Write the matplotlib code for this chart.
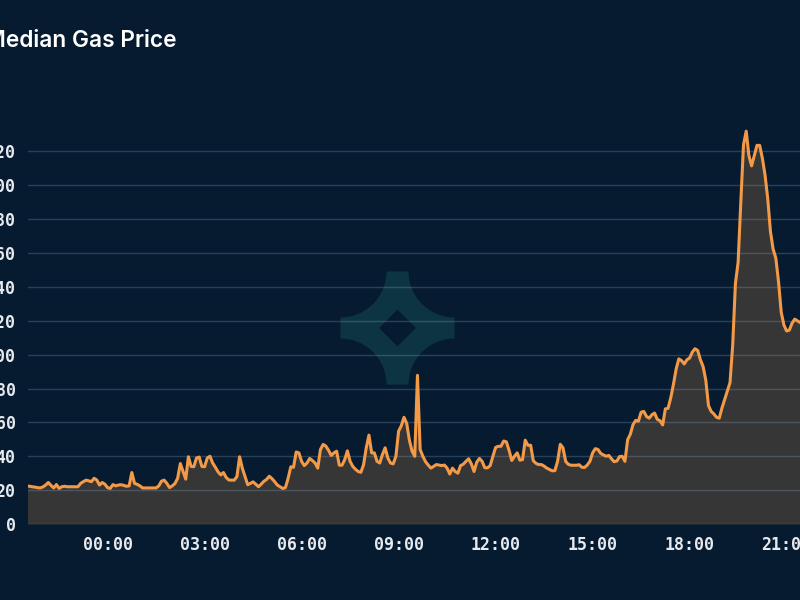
import numpy as np
import pandas as pd
import matplotlib
matplotlib.use("Agg")
import matplotlib.pyplot as plt
import matplotlib.dates as mdates
from matplotlib.path import Path
from matplotlib.patches import PathPatch

# ---------------- data ----------------
title = "Median Gas Price"
start_time = "2024-01-01 21:30"
sample_freq = "5min"
median_gas = [
    22.5, 22.3, 22, 21.8, 21.5, 21.3, 21.9, 23, 24.5, 22.8, 21.3, 23.3,
    21, 22, 22.3, 22, 22, 22, 22, 22, 24, 25, 25.9, 25.5,
    25, 27, 26, 23, 24.5, 23.5, 21.5, 21, 23.3, 22.5, 23, 23.2,
    22.8, 22.3, 22.5, 30.4, 24, 23.4, 22.5, 21.3, 21.3, 21.3, 21.3, 21.3,
    21.3, 22.5, 25.3, 25.9, 24, 21.5, 22.5, 23.9, 27, 35.7, 31, 26.5,
    39.7, 34, 33.8, 39, 39.5, 34, 33.8, 39, 40, 36, 33.5, 30.8,
    29, 30.4, 27.5, 26, 25.9, 25.9, 28, 39.7, 33, 28, 23.2, 24,
    24.9, 23.5, 22, 23.5, 25.2, 26.3, 28.2, 26.8, 25, 23, 22, 21,
    21.5, 27, 33.8, 33.5, 42.5, 42, 37, 34.5, 36, 38.7, 37.5, 36,
    33, 44, 47, 46, 43.5, 40.5, 42, 43, 34.7, 34.7, 38, 43.2,
    37, 34, 32.3, 31, 30.5, 35, 45, 52.5, 42, 42, 37, 36,
    41, 45, 39, 36, 35.5, 40, 54.8, 58, 63, 59.5, 49.5, 43,
    40, 87.8, 44, 40, 36.8, 34.8, 33, 34, 35.1, 34.8, 34.5, 34.8,
    33, 29.5, 33, 31, 30, 34.5, 35.3, 37, 38.5, 35.5, 31, 36.5,
    38.7, 37, 33.2, 33.2, 34.5, 40, 45.2, 45.9, 45.9, 49, 48.5, 43.5,
    37.5, 40, 42, 37.7, 38, 49.5, 46.5, 46.5, 37.3, 35.8, 35.1, 35.1,
    34.2, 33, 32.2, 31.4, 31.5, 37, 47.1, 45, 37, 35.2, 34.7, 34.7,
    34.7, 35, 33.5, 33.4, 34.8, 37, 42, 44.5, 44, 41.7, 40.8, 40,
    40.5, 38.5, 36.8, 37.2, 39.8, 40, 37, 49.8, 53, 58.7, 61.2, 60.7,
    66, 66.5, 63.5, 62.5, 64.5, 65.5, 61.8, 61, 58.5, 68, 68.3, 74.5,
    82.5, 91.5, 97.5, 96.5, 94.5, 97, 98, 101.5, 103.5, 102.5, 97, 93,
    85, 70, 66.5, 65, 63, 62.5, 68.5, 73.5, 78.7, 83.5, 106, 142,
    154.5, 190, 224, 232, 217.6, 211.5, 217.5, 223.6, 223.6, 216, 206, 192,
    172.7, 162.3, 157, 143, 125, 117.5, 114, 114.5, 118.5, 121, 120, 119,
]
y_ticks = [0, 20, 40, 60, 80, 100, 120, 140, 160, 180, 200, 220]
x_view = ("2024-01-01 21:32:20", "2024-01-02 21:24:50")

times = pd.date_range(start=start_time, periods=len(median_gas), freq=sample_freq)

# ---------------- style ----------------
BG = "#061b30"
FILL = "#363636"
LINE = "#f39a48"
TXT = "#e6e9ee"
WM = "#0d3541"

W, H = 800, 600
fig = plt.figure(figsize=(8, 6), dpi=100, facecolor=BG)

# watermark (decorative emblem behind the plot)
cx, cy = 397.5, 328.0
hx, hy = 57.0, 56.5
r = 46.0
def emblem_path():
    top = H - (cy - hy)
    bot = H - (cy + hy)
    left = cx - hx
    right = cx + hx
    ccy = H - cy
    def arc(ccx, ccy_, a0, a1):
        a = np.linspace(a0, a1, 24)
        return list(zip(ccx + r * np.cos(a), ccy_ + r * np.sin(a)))
    pts = []
    pts += [(left + r, top), (right - r, top)]
    pts += arc(right, top, np.pi, 1.5 * np.pi)
    pts += [(right, top - r), (right, bot + r)]
    pts += arc(right, bot, 0.5 * np.pi, np.pi)
    pts += [(right - r, bot), (left + r, bot)]
    pts += arc(left, bot, 0.0, 0.5 * np.pi)
    pts += [(left, bot + r), (left, top - r)]
    pts += arc(left, top, 1.5 * np.pi, 2 * np.pi)
    outer = np.array(pts)
    d = 18.5
    inner = np.array([(cx, ccy + d), (cx - d, ccy), (cx, ccy - d), (cx + d, ccy)])
    v = np.vstack([outer, outer[:1], inner, inner[:1]])
    codes = ([Path.MOVETO] + [Path.LINETO] * (len(outer) - 1) + [Path.CLOSEPOLY]
             + [Path.MOVETO] + [Path.LINETO] * 3 + [Path.CLOSEPOLY])
    v = v / np.array([W, H])
    return Path(v, codes)

fig.patches.append(PathPatch(emblem_path(), transform=fig.transFigure,
                             facecolor=WM, edgecolor="none", zorder=-1))

ax = fig.add_axes([28 / W, 1 - 524 / H, 1 - 28 / W, (524 - 121) / H])
ax.set_facecolor("none")
ax.patch.set_alpha(0)

ax.fill_between(times, median_gas, 0, color=FILL, linewidth=0, zorder=1)
ax.plot(times, median_gas, color=LINE, linewidth=2.2, solid_joinstyle="round", zorder=3)

ax.set_ylim(0, 238)
ax.set_xlim(pd.Timestamp(x_view[0]), pd.Timestamp(x_view[1]))
ax.set_yticks(y_ticks)
ax.xaxis.set_major_locator(mdates.HourLocator(byhour=range(0, 24, 3)))
ax.xaxis.set_major_formatter(mdates.DateFormatter("%H:%M"))

ax.grid(axis="y", color="#8fb3d9", alpha=0.25, linewidth=1.0)
ax.grid(axis="x", visible=False)
for s in ax.spines.values():
    s.set_visible(False)
ax.tick_params(axis="both", length=0, colors=TXT, labelsize=12)
ax.tick_params(axis="y", pad=9)
ax.tick_params(axis="x", pad=9)
for lab in ax.get_xticklabels() + ax.get_yticklabels():
    lab.set_fontfamily("DejaVu Sans Mono")
    lab.set_fontweight("bold")

fig.text(-15 / W, 1 - 47 / H, title, color="white", fontsize=16.3,
         fontfamily="Inter", fontweight="semibold", va="baseline", ha="left")

fig.savefig("out.png", dpi=100, facecolor=BG)
